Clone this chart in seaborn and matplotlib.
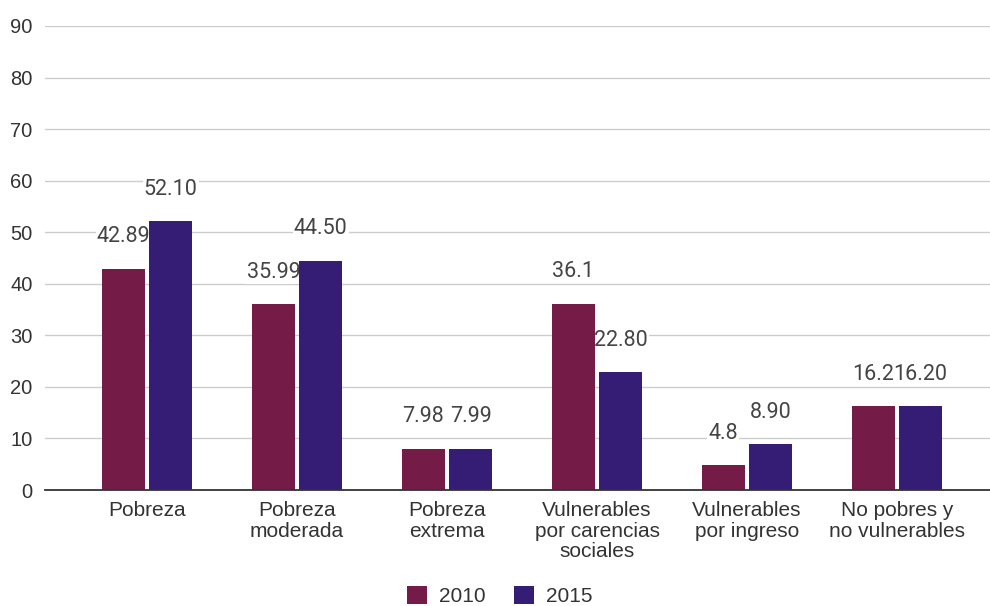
import matplotlib
matplotlib.use("Agg")
import matplotlib.pyplot as plt
import seaborn as sns
import pandas as pd

categories = [
    "Pobreza",
    "Pobreza\nmoderada",
    "Pobreza\nextrema",
    "Vulnerables\npor carencias\nsociales",
    "Vulnerables\npor ingreso",
    "No pobres y\nno vulnerables",
]
years = ["2010", "2015"]
values_2010 = [42.89, 35.99, 7.98, 36.1, 4.8, 16.2]
values_2015 = [52.10, 44.50, 7.99, 22.80, 8.90, 16.20]
labels_2010 = ["42.89", "35.99", "7.98", "36.1", "4.8", "16.2"]
labels_2015 = ["52.10", "44.50", "7.99", "22.80", "8.90", "16.20"]
y_ticks = [0, 10, 20, 30, 40, 50, 60, 70, 80, 90]

colors = {"2010": "#741b47", "2015": "#351c75"}

df = pd.DataFrame({
    "categoria": categories * 2,
    "anio": [years[0]] * len(categories) + [years[1]] * len(categories),
    "valor": values_2010 + values_2015,
    "etiqueta": labels_2010 + labels_2015,
})

sns.set_theme(style="white")
plt.rcParams["font.family"] = ["Liberation Sans", "DejaVu Sans"]

fig = plt.figure(figsize=(9.9, 6.06), dpi=100)
ax = fig.add_axes([0.0455, 0.1914, 0.9545, 0.7657])

sns.barplot(
    data=df, x="categoria", y="valor", hue="anio",
    order=categories, hue_order=years, palette=colors,
    width=0.63, gap=0.08, saturation=1, linewidth=0, ax=ax, legend=True,
)
for container in ax.containers:
    for bar in container:
        bar.set_zorder(2)

ax.set_ylim(0, 90)
ax.set_xlim(-0.68, 5.62)
ax.set_yticks(y_ticks)
ax.set_yticklabels([str(t) for t in y_ticks])
ax.yaxis.grid(True, color="#cccccc", linewidth=1.0)
ax.set_axisbelow(True)
for side in ["top", "right", "left"]:
    ax.spines[side].set_visible(False)
ax.spines["bottom"].set_color("#333333")
ax.spines["bottom"].set_linewidth(1.3)
ax.spines["bottom"].set_zorder(3)
ax.set_xlabel("")
ax.set_ylabel("")
ax.tick_params(axis="y", length=0, pad=9, labelsize=14.5, labelcolor="#333333")
ax.tick_params(axis="x", length=0, pad=8, labelsize=15, labelcolor="#333333")
for t in ax.get_xticklabels():
    t.set_linespacing(1.1)

# value labels above each bar, drawn over the grid but under the bars
for container, labs in zip(ax.containers, [labels_2010, labels_2015]):
    for bar, lab in zip(container, labs):
        x = bar.get_x() + bar.get_width() / 2
        y = bar.get_height()
        ax.annotate(
            lab, (x, y), xytext=(0, 32), textcoords="offset pixels",
            ha="center", va="center", fontsize=15.5, color="#444444",
            family=["Roboto", "DejaVu Sans"],
            bbox=dict(boxstyle="square,pad=0.05", fc="white", ec="none"),
            zorder=1,
        )

handles, lbls = ax.get_legend_handles_labels()
ax.get_legend().remove()
fig.legend(
    handles, lbls, loc="center", bbox_to_anchor=(0.505, 0.016), ncol=2,
    frameon=False, fontsize=15, handlelength=0.95, handleheight=0.95,
    handletextpad=0.6, columnspacing=1.35, labelcolor="#333333",
)

fig.savefig("out.png", dpi=100)
